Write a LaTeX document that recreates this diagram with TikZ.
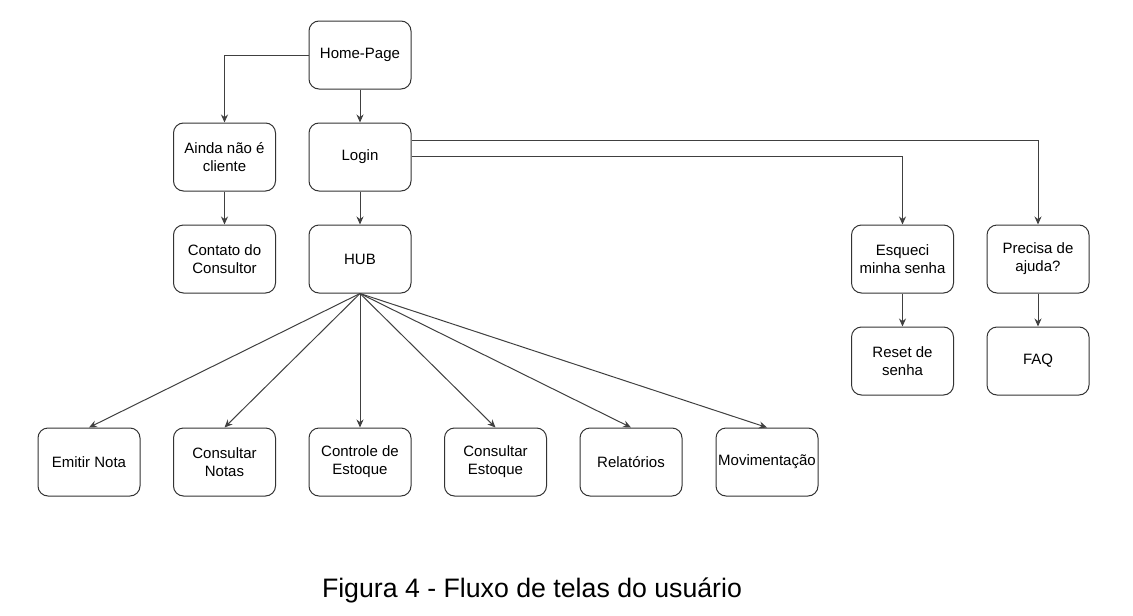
\documentclass[tikz,border=0pt]{standalone}
\usepackage{fontspec}
\setmainfont{Liberation Sans}
\usetikzlibrary{arrows.meta}
\begin{document}
\begin{tikzpicture}[x=1pt,y=-1pt,
  box/.style={draw=black!80, line width=1pt, rounded corners=10pt, fill=white,
    minimum width=102pt, minimum height=68pt, inner sep=1pt, align=center,
    font=\fontsize{15}{18}\selectfont, text=black},
  conn/.style={draw=black!75, line width=1pt, -{Stealth[length=8pt,width=7pt]}}]
\path[use as bounding box] (0,0) rectangle (1133,616);
\node[box] (home) at (360,55) {Home-Page};
\node[box] (ainda) at (224.5,157) {Ainda não é\\cliente};
\node[box] (login) at (360,157) {Login};
\node[box] (contato) at (224.5,259) {Contato do\\Consultor};
\node[box] (hub) at (360,259) {HUB};
\node[box] (esqueci) at (902.5,259) {Esqueci\\minha senha};
\node[box] (precisa) at (1038,259) {Precisa de\\ajuda?};
\node[box] (reset) at (902.5,361) {Reset de\\senha};
\node[box] (faq) at (1038,361) {FAQ};
\node[box] (emitir) at (89,462) {Emitir Nota};
\node[box] (cnotas) at (224.5,462) {Consultar\\Notas};
\node[box] (controle) at (360,462) {Controle de\\Estoque};
\node[box] (cestoque) at (495.5,462) {Consultar\\Estoque};
\node[box] (relat) at (631,462) {Relatórios};
\node[box] (movim) at (767,462) {Movimentação};

\draw[conn] (home.west) -| (ainda.north);
\draw[conn] (home) -- (login);
\draw[conn] (ainda) -- (contato);
\draw[conn] (login) -- (hub);
\draw[conn] (login.east |- 0,140) -| (precisa.north);
\draw[conn] (login.east |- 0,156) -| (esqueci.north);
\draw[conn] (esqueci) -- (reset);
\draw[conn] (precisa) -- (faq);
\foreach \t in {emitir,cnotas,controle,cestoque,relat,movim}
  \draw[conn] (hub.south) -- (\t.north);

\node[font=\fontsize{26.7}{30}\selectfont, text=black] (cap) at (532,590) {Figura 4 - Fluxo de telas do usuário};
\end{tikzpicture}
\end{document}
